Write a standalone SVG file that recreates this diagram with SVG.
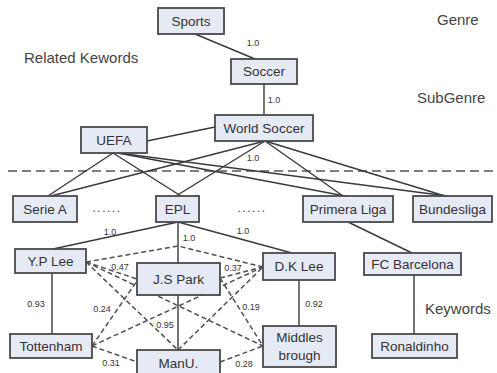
<svg xmlns="http://www.w3.org/2000/svg" width="497" height="373" viewBox="0 0 497 373">
<style>
.box{fill:#e6eaf4;stroke:#4a4a4a;stroke-width:1.8}
.bt{font-family:"Liberation Sans",Arial,sans-serif;font-size:13.5px;fill:#333;text-anchor:middle}
.dots{font-family:"Liberation Sans",Arial,sans-serif;font-size:12px;fill:#444;text-anchor:middle;letter-spacing:1.5px}
.lbl{font-family:"Liberation Sans",Arial,sans-serif;font-size:9px;fill:#333;text-anchor:middle}
.big{font-family:"Liberation Sans",Arial,sans-serif;font-size:15px;fill:#444}
.e{stroke:#3a3a3a;stroke-width:1.4;fill:none}
.d{stroke:#505050;stroke-width:1.5;stroke-dasharray:5,3;fill:none}
.sep{stroke:#555;stroke-width:1.6;stroke-dasharray:9,5;fill:none}
</style>
<rect width="497" height="373" fill="#ffffff"/>
<text class="big" x="437" y="25">Genre</text>
<text class="big" x="24" y="63">Related Kewords</text>
<text class="big" x="417" y="103">SubGenre</text>
<text class="big" x="425" y="314">Keywords</text>
<line class="sep" x1="8" y1="171" x2="497" y2="171"/>
<g id="connectors">
<line class="e" x1="195" y1="34" x2="255" y2="59"/>
<line class="e" x1="264" y1="84" x2="264" y2="115"/>
<line class="e" x1="147" y1="141" x2="215" y2="127"/>
<line class="e" x1="113" y1="153" x2="48" y2="196"/>
<line class="e" x1="113" y1="153" x2="181" y2="196"/>
<line class="e" x1="118" y1="153" x2="345" y2="196"/>
<line class="e" x1="118" y1="153" x2="447" y2="196"/>
<line class="e" x1="265" y1="141" x2="51" y2="196"/>
<line class="e" x1="265" y1="141" x2="176" y2="196"/>
<line class="e" x1="265" y1="141" x2="343" y2="196"/>
<line class="e" x1="265" y1="141" x2="445" y2="196"/>
<line class="e" x1="178" y1="222" x2="53" y2="249"/>
<line class="e" x1="178" y1="222" x2="178" y2="263"/>
<line class="e" x1="178" y1="222" x2="292" y2="253"/>
<line class="e" x1="348" y1="222" x2="412" y2="253"/>
<line class="e" x1="52" y1="273" x2="52" y2="334"/>
<line class="e" x1="178" y1="295" x2="178" y2="350"/>
<line class="e" x1="299" y1="280" x2="299" y2="326"/>
<line class="e" x1="414" y1="275" x2="414" y2="334"/>
<polyline class="d" points="86,262 178,246 263,267"/>
<line class="d" x1="86" y1="262" x2="137" y2="279"/>
<line class="d" x1="86" y1="262" x2="178" y2="350"/>
<line class="d" x1="86" y1="262" x2="263" y2="346"/>
<line class="d" x1="92" y1="346" x2="137" y2="281"/>
<line class="d" x1="92" y1="346" x2="263" y2="267"/>
<line class="d" x1="92" y1="346" x2="137" y2="362"/>
<line class="d" x1="220" y1="278" x2="263" y2="267"/>
<line class="d" x1="220" y1="278" x2="263" y2="346"/>
<line class="d" x1="178" y1="350" x2="263" y2="267"/>
<line class="d" x1="220" y1="362" x2="263" y2="346"/>
<text class="lbl" x="253" y="46">1.0</text>
<text class="lbl" x="274" y="103">1.0</text>
<text class="lbl" x="253" y="161">1.0</text>
<text class="lbl" x="110" y="235">1.0</text>
<text class="lbl" x="189" y="241">1.0</text>
<text class="lbl" x="243" y="234">1.0</text>
<text class="lbl" x="36" y="307">0.93</text>
<text class="lbl" x="102" y="312">0.24</text>
<text class="lbl" x="120" y="270">0.47</text>
<text class="lbl" x="165" y="328">0.95</text>
<text class="lbl" x="111" y="366">0.31</text>
<text class="lbl" x="233" y="271">0.37</text>
<text class="lbl" x="251" y="310">0.19</text>
<text class="lbl" x="314" y="307">0.92</text>
<text class="lbl" x="244" y="367">0.28</text>
</g>
<g id="sports"><rect class="box" x="158" y="8" width="66" height="26"/><text class="bt" x="191" y="26">Sports</text></g>
<g id="soccer"><rect class="box" x="231" y="59" width="66" height="25"/><text class="bt" x="264" y="76">Soccer</text></g>
<g id="worldsoccer"><rect class="box" x="215" y="115" width="98" height="26"/><text class="bt" x="264" y="133">World Soccer</text></g>
<g id="uefa"><rect class="box" x="81" y="127" width="66" height="26"/><text class="bt" x="114" y="145">UEFA</text></g>
<g id="seriea"><rect class="box" x="13" y="196" width="64" height="26"/><text class="bt" x="45" y="214">Serie A</text></g>
<g id="dots1"><text class="dots" x="107" y="212">......</text></g>
<g id="epl"><rect class="box" x="156" y="196" width="43" height="26"/><text class="bt" x="177.5" y="214">EPL</text></g>
<g id="dots2"><text class="dots" x="252" y="212">......</text></g>
<g id="primeraliga"><rect class="box" x="303" y="196" width="90" height="26"/><text class="bt" x="348" y="214">Primera Liga</text></g>
<g id="bundesliga"><rect class="box" x="413" y="196" width="79" height="26"/><text class="bt" x="452.5" y="214">Bundesliga</text></g>
<g id="yplee"><rect class="box" x="15" y="249" width="71" height="24"/><text class="bt" x="50.5" y="266">Y.P Lee</text></g>
<g id="jspark"><rect class="box" x="137" y="263" width="83" height="32"/><text class="bt" x="178.5" y="284">J.S Park</text></g>
<g id="dklee"><rect class="box" x="263" y="253" width="72" height="27"/><text class="bt" x="299" y="271">D.K Lee</text></g>
<g id="fcbarcelona"><rect class="box" x="364" y="253" width="97" height="22"/><text class="bt" x="412.5" y="269">FC Barcelona</text></g>
<g id="tottenham"><rect class="box" x="10" y="334" width="82" height="24"/><text class="bt" x="51" y="351">Tottenham</text></g>
<g id="manu"><rect class="box" x="137" y="350" width="83" height="28"/><text class="bt" x="178.5" y="368">ManU.</text></g>
<g id="middlesbrough"><rect class="box" x="263" y="326" width="73" height="41"/><text class="bt" x="299.5" y="342">Middles</text><text class="bt" x="299.5" y="360">brough</text></g>
<g id="ronaldinho"><rect class="box" x="372" y="334" width="85" height="24"/><text class="bt" x="414.5" y="351">Ronaldinho</text></g>
</svg>
